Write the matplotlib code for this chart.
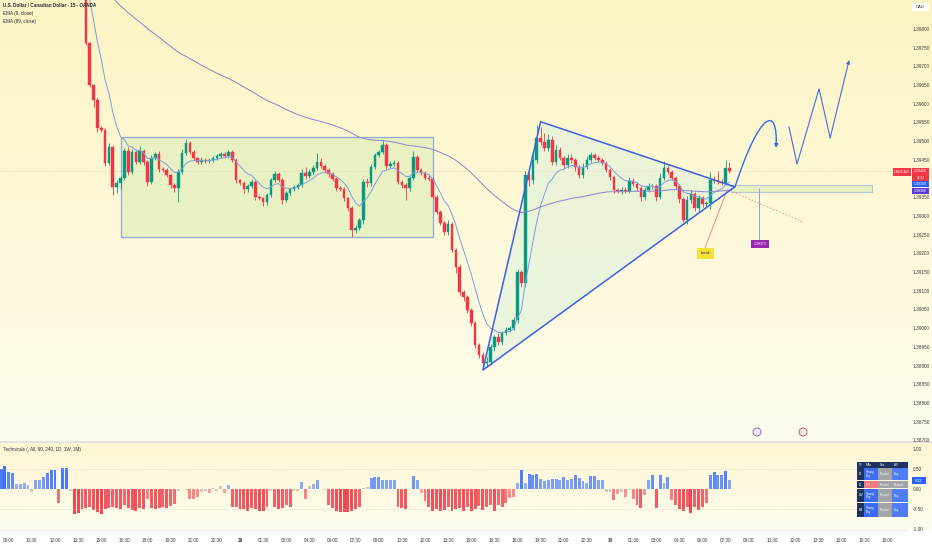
import numpy as np
import pandas as pd
import matplotlib
matplotlib.use("Agg")
import matplotlib.pyplot as plt
from matplotlib.patches import Rectangle, Polygon, FancyArrowPatch, Ellipse
from matplotlib.path import Path
from matplotlib.lines import Line2D
from matplotlib.ticker import FormatStrFormatter
from matplotlib.colors import to_rgb

plt.rcParams['font.family'] = ['Liberation Sans', 'DejaVu Sans']

# 15m candles, hours counted from the 29th 00:00; first visible candle = 28th 14:00
first_hour = -10.0
first_open = 1.39891
closes = [
    1.39763, 1.39650, 1.39610, 1.39535, 1.39530, 1.39442, 1.39484, 1.39377, 1.39388, 1.39402,
    1.39474, 1.39418, 1.39471, 1.39444, 1.39474, 1.39444, 1.39391, 1.39455, 1.39466, 1.39426,
    1.39423, 1.39409, 1.39383, 1.39375, 1.39418, 1.39468, 1.39495, 1.39471, 1.39455, 1.39444,
    1.39450, 1.39447, 1.39450, 1.39455, 1.39460, 1.39466, 1.39460, 1.39471, 1.39450, 1.39396,
    1.39388, 1.39372, 1.39380, 1.39391, 1.39351, 1.39348, 1.39337, 1.39356, 1.39396, 1.39412,
    1.39396, 1.39343, 1.39361, 1.39372, 1.39377, 1.39383, 1.39415, 1.39407, 1.39418, 1.39428,
    1.39444, 1.39434, 1.39423, 1.39412, 1.39399, 1.39375, 1.39372, 1.39348, 1.39321, 1.39262,
    1.39268, 1.39289, 1.39391, 1.39388, 1.39431, 1.39463, 1.39471, 1.39490, 1.39434, 1.39439,
    1.39442, 1.39391, 1.39383, 1.39375, 1.39402, 1.39458, 1.39423, 1.39415, 1.39402, 1.39399,
    1.39351, 1.39311, 1.39281, 1.39257, 1.39279, 1.39209, 1.39163, 1.39097, 1.39083, 1.39049,
    1.39014, 1.38955, 1.38928, 1.38907, 1.38910, 1.38950, 1.38976, 1.38963, 1.38987, 1.38995,
    1.39000, 1.39022, 1.39150, 1.39121, 1.39409, 1.39396, 1.39450, 1.39509, 1.39498, 1.39482,
    1.39503, 1.39444, 1.39476, 1.39455, 1.39436, 1.39455, 1.39450, 1.39431, 1.39409, 1.39431,
    1.39450, 1.39463, 1.39455, 1.39450, 1.39442, 1.39423, 1.39404, 1.39369, 1.39367, 1.39369,
    1.39367, 1.39394, 1.39385, 1.39375, 1.39351, 1.39369, 1.39380, 1.39380, 1.39351, 1.39402,
    1.39428, 1.39418, 1.39402, 1.39380, 1.39345, 1.39289, 1.39343, 1.39359, 1.39321, 1.39348,
    1.39332, 1.39335, 1.39396, 1.39394, 1.39391, 1.39388, 1.39428, 1.39420,
]
# wick lengths in pips beyond the body
upper_wick = [
    1.0, 0.3, 0.4, 0.5, 0.6, 0.5, 1.0, 0.6, 0.8, 0.6,
    0.8, 1.0, 0.8, 0.6, 1.2, 0.6, 0.5, 0.8, 0.6, 0.8,
    0.5, 0.5, 0.4, 0.4, 0.8, 1.0, 1.2, 0.6, 0.5, 0.4,
    0.8, 0.6, 0.5, 0.5, 0.6, 0.5, 0.6, 0.6, 0.5, 0.4,
    0.4, 0.5, 0.6, 0.8, 0.5, 0.4, 0.4, 0.6, 0.6, 0.8,
    0.5, 0.5, 0.6, 0.4, 0.5, 0.6, 1.2, 1.5, 0.8, 0.8,
    2.5, 1.0, 0.6, 0.6, 0.5, 0.5, 0.4, 0.5, 0.4, 0.6,
    0.8, 0.6, 0.8, 1.0, 0.8, 0.6, 0.6, 1.2, 0.6, 0.8,
    0.8, 0.6, 0.5, 0.5, 0.6, 1.5, 0.6, 0.6, 0.6, 0.8,
    0.5, 0.6, 0.5, 0.6, 1.0, 0.5, 0.6, 0.8, 0.5, 0.6,
    0.6, 0.5, 0.5, 0.8, 1.2, 0.8, 0.6, 1.0, 0.6, 0.8,
    0.6, 0.8, 0.8, 0.6, 1.0, 0.8, 1.5, 3.5, 3.0, 2.5,
    1.5, 1.0, 1.5, 0.8, 0.6, 1.0, 1.2, 0.6, 0.5, 1.0,
    1.0, 0.8, 0.6, 0.8, 0.6, 0.5, 0.5, 0.4, 0.6, 0.8,
    0.8, 1.0, 0.8, 0.6, 0.5, 0.8, 0.8, 0.6, 0.6, 1.2,
    2.0, 0.8, 0.6, 0.5, 0.5, 0.6, 1.0, 1.0, 0.6, 0.8,
    0.6, 0.6, 2.1, 1.0, 2.5, 0.8, 2.1, 1.6,
]
lower_wick = [
    0.6, 0.5, 1.9, 1.0, 0.5, 0.8, 0.6, 2.0, 1.5, 1.5,
    0.6, 0.8, 0.6, 0.6, 0.6, 0.8, 1.0, 0.6, 0.5, 0.8,
    0.5, 0.6, 0.8, 1.0, 3.7, 0.6, 0.5, 0.6, 0.5, 0.5,
    0.5, 0.6, 0.5, 0.6, 0.5, 0.5, 0.6, 0.5, 0.6, 0.8,
    0.6, 1.0, 0.8, 0.6, 0.8, 0.6, 1.0, 0.8, 0.6, 0.5,
    0.6, 1.0, 0.6, 0.6, 0.6, 0.6, 0.6, 0.8, 0.6, 0.6,
    0.6, 0.6, 0.6, 0.8, 0.6, 0.8, 0.6, 0.8, 0.8, 1.9,
    0.8, 0.6, 1.0, 1.0, 0.8, 0.6, 0.6, 0.6, 0.8, 0.6,
    0.6, 0.6, 0.8, 3.2, 0.8, 0.6, 0.6, 0.6, 0.6, 0.6,
    0.6, 0.6, 0.6, 0.8, 0.8, 0.6, 1.6, 0.8, 1.0, 0.8,
    0.8, 0.8, 0.8, 2.0, 1.2, 0.8, 1.0, 0.8, 0.8, 0.6,
    0.6, 0.6, 0.8, 1.0, 1.0, 1.5, 1.0, 0.8, 0.8, 0.8,
    0.8, 0.8, 0.8, 0.6, 1.0, 0.8, 0.8, 1.0, 0.8, 0.8,
    0.6, 0.6, 0.6, 0.6, 0.6, 0.6, 0.8, 0.8, 0.6, 0.8,
    0.6, 0.6, 0.6, 0.8, 1.0, 0.8, 0.6, 0.8, 1.0, 0.6,
    0.6, 0.6, 0.6, 0.8, 1.0, 0.6, 1.0, 0.8, 0.8, 0.8,
    0.8, 0.8, 1.5, 0.6, 0.6, 0.6, 0.6, 0.6,
]
# EMA state just before the first visible candle (price was above the pane)
ema_fast_seed = 1.39978
ema_slow_seed = 1.39950

# Technicals rating, one bar per 15m from 28th 08:30
tech_first_hour = -15.5
tech_rating = [
    0.50, 0.57, 0.42, 0.40, 0.12, 0.13, 0.15, 0.10, -0.08, 0.22,
    0.22, 0.30, 0.40, 0.47, 0.48, -0.35, 0.52, 0.52, -0.05, -0.62,
    -0.60, -0.50, -0.48, -0.45, -0.52, -0.58, -0.62, -0.50, -0.48, -0.45,
    -0.48, -0.50, -0.40, -0.48, -0.52, -0.55, -0.47, -0.50, -0.25, -0.48,
    -0.50, -0.48, -0.45, -0.48, -0.42, -0.38, -0.05, 0.00, -0.02, -0.25,
    -0.25, -0.20, -0.08, -0.05, -0.10, 0.03, -0.05, 0.08, -0.10, 0.10,
    -0.45, -0.45, -0.50, -0.50, -0.55, -0.48, -0.50, -0.55, -0.55, -0.45,
    -0.05, -0.45, -0.50, -0.48, -0.40, -0.45, -0.05, -0.05, 0.18, -0.25,
    0.08, 0.12, 0.22, 0.00, -0.02, -0.40, -0.48, -0.55, -0.57, -0.58,
    -0.57, -0.55, -0.50, -0.45, 0.03, 0.05, 0.28, 0.30, 0.30, 0.22,
    0.22, 0.22, 0.22, -0.45, -0.48, -0.50, 0.00, 0.33, 0.22, -0.10,
    -0.30, -0.45, -0.55, -0.50, -0.55, -0.52, -0.45, -0.55, -0.50, -0.48,
    -0.55, -0.45, -0.55, -0.50, -0.42, -0.52, -0.45, -0.40, -0.55, -0.40,
    -0.45, -0.35, -0.22, -0.20, 0.15, 0.48, 0.15, 0.38, 0.35, 0.38,
    0.25, 0.20, 0.22, 0.25, 0.25, 0.22, 0.30, 0.22, 0.25, 0.35,
    0.28, 0.20, 0.15, 0.32, 0.32, 0.22, 0.22, -0.08, -0.08, -0.28,
    -0.12, -0.08, -0.20, -0.02, -0.25, -0.40, -0.48, -0.15, 0.22, 0.35,
    -0.48, 0.35, 0.15, 0.30, -0.28, -0.40, -0.50, -0.55, -0.45, -0.60,
    -0.45, -0.52, -0.45, -0.35, 0.35, 0.42, 0.35, 0.35, 0.45, 0.22,
]

# 1.39400 sits under the last-price label, so it is left out
price_ticks = [1.387, 1.3875, 1.388, 1.3885, 1.389, 1.3895, 1.390, 1.3905, 1.391, 1.3915,
               1.392, 1.3925, 1.393, 1.3935, 1.3945, 1.395, 1.3955, 1.396, 1.3965,
               1.397, 1.3975, 1.398]
tech_ticks = [1.0, 0.5, 0.0, -0.5, -1.0]
tech_tick_labels = ['1.00', '0.50', '0.00', '-0.50', '-1.00']
time_ticks = [-15, -13.5, -12, -10.5, -9, -7.5, -6, -4.5, -3, -1.5, 0, 1.5, 3, 4.5, 6, 7.5,
              9, 10.5, 12, 13.5, 15, 16.5, 18, 19.5, 21, 22.5, 24, 25.5, 27, 28.5, 30, 31.5,
              33, 34.5, 36, 37.5, 39, 40.5, 42]
time_labels = ['09:00', '10:30', '12:00', '13:30', '15:00', '16:30', '18:00', '19:30', '21:00',
               '22:30', '29', '01:30', '03:00', '04:30', '06:00', '07:30', '09:00', '10:30',
               '12:00', '13:30', '15:00', '16:30', '18:00', '19:30', '21:00', '22:30', '30',
               '01:30', '03:00', '04:30', '06:00', '07:30', '09:00', '10:30', '12:00', '13:30',
               '15:00', '16:30', '18:00']

# drawings (hour, price)
range_box = (-7.75, 12.5, 1.39245, 1.39510)
triangle = [(15.75, 1.38888), (19.5, 1.39552), (32.1, 1.39378)]
retest_zone = (31.85, 41.0, 1.39364, 1.39383)
red_dash = [(31.98, 1.39364), (36.52, 1.39284)]
curve_pts = [(32.11, 1.39378), (33.73, 1.39583), (34.90, 1.39597), (34.77, 1.39482)]
zigzag = [(35.61, 1.39538), (36.13, 1.39439), (37.56, 1.39640), (38.28, 1.39509), (39.51, 1.39717)]
target_line = (33.66, 1.39375, 1.39236)
break_line = [(30.16, 1.39214), (31.59, 1.39369)]

table_header = ['TF', 'MAs', 'Osc', 'All']
table_rows = [['15', 'Strong\nBuy', 'Neutral', 'Buy'],
              ['60', 'Sell', 'Neutral', 'Neutral'],
              ['1W', 'Strong\nBuy', 'Neutral', 'Buy'],
              ['1M', 'Strong\nBuy', 'Neutral', 'Buy']]

W, H = 932, 550
PANE_R = 908
PX_H = 15.417               # px per hour
X0 = -240 / PX_H            # hour at pixel x = 0
P_PER_PX = 0.0005 / 18.7


def fx(x):
    return x / W


def fy(y):
    return 1 - y / H


fig = plt.figure(figsize=(W / 100, H / 100), dpi=100)

# background gradient
bg = fig.add_axes([0, 0, 1, 1], zorder=-10)
rows = np.arange(H)
img = np.zeros((H, 1, 3))
top_c, bot_c = np.array([252, 244, 196]), np.array([255, 253, 238])
tech_top = np.array([253, 247, 212])
for k in range(3):
    col = np.interp(rows, [0, 441], [top_c[k], bot_c[k]])
    col = np.where(rows >= 441, np.interp(rows, [443, 530], [tech_top[k], bot_c[k]]), col)
    col = np.where((rows >= 441) & (rows < 443), 226, col)
    col = np.where(rows >= 530, 254, col)
    img[:, 0, k] = col / 255
bg.imshow(img, aspect='auto', extent=[0, 1, 0, 1])
bg.axis('off')

# ---- main pane
ax = fig.add_axes([0, fy(441), fx(PANE_R), 441 / H])
ax.set_facecolor('none')
ax.set_xlim(X0, X0 + PANE_R / PX_H)
ax.set_ylim(1.398 - 412 * P_PER_PX, 1.398 + 29 * P_PER_PX)
for s in ax.spines.values():
    s.set_visible(False)

hours = first_hour + 0.25 * np.arange(len(closes))
c = np.array(closes)
o = np.array([first_open] + closes[:-1])
hi = np.maximum(o, c) + np.array(upper_wick) / 10000
lo = np.minimum(o, c) - np.array(lower_wick) / 10000
cols = np.where(c >= o, '#089981', '#f23645')

ax.vlines(hours, lo, hi, colors=cols, lw=0.6, zorder=4)
ax.bar(hours, c - o, bottom=o, width=0.17, color=cols, edgecolor=cols, linewidth=0.3, zorder=5)

ema_fast = pd.Series([ema_fast_seed] + closes).ewm(span=9, adjust=False).mean().values[1:]
ema_slow = pd.Series([ema_slow_seed] + closes).ewm(span=89, adjust=False).mean().values[1:]
ax.plot(hours, ema_fast, color='#7f9ddc', lw=0.7, zorder=6)
ax.plot(hours, ema_slow, color='#8b84c6', lw=0.7, zorder=6)

ax.axhline(closes[-1], color='#dcb8a8', lw=0.5, ls=(0, (1, 1.5)), zorder=1)

t0, t1, pb, pt = range_box
ax.add_patch(Rectangle((t0, pb), t1 - t0, pt - pb, facecolor='#d9ecb6', alpha=0.55,
                       edgecolor='none', zorder=2))
ax.add_patch(Rectangle((t0, pb), t1 - t0, pt - pb, facecolor='none', edgecolor='#8eaad8',
                       lw=0.9, zorder=3))

ax.add_patch(Polygon(triangle, closed=True, facecolor='#dff2dc', alpha=0.6, edgecolor='none', zorder=2))
ax.add_patch(Polygon(triangle, closed=True, facecolor='none', edgecolor='#3d5fe0', lw=1.1, zorder=7))

r0, r1, rb, rt = retest_zone
ax.add_patch(Rectangle((r0, rb), r1 - r0, rt - rb, facecolor='#d9ecb6', alpha=0.6,
                       edgecolor='#8eaad8', lw=0.8, zorder=3))

ax.plot(*zip(*red_dash), color='#f08a8a', lw=0.6, ls=(0, (2, 2)), zorder=6)
ax.plot(*zip(*break_line), color='#f07a7a', lw=0.6, zorder=6)
ax.vlines(target_line[0], target_line[2], target_line[1], color='#8ea4d4', lw=0.7, zorder=6)

curve = Path(curve_pts, [Path.MOVETO, Path.CURVE4, Path.CURVE4, Path.CURVE4])
ax.add_patch(FancyArrowPatch(path=curve, arrowstyle='-|>', mutation_scale=5,
                             color='#2f6de0', lw=1.0, zorder=8))
ax.plot(*zip(*zigzag[:-1]), color='#4a6cdc', lw=0.8, zorder=8)
ax.annotate('', xy=zigzag[-1], xytext=zigzag[-2],
            arrowprops=dict(arrowstyle='-|>', color='#4a6cdc', lw=0.8, mutation_scale=5,
                            shrinkA=0, shrinkB=0), zorder=8)

ax.set_xticks([])
ax.yaxis.tick_right()
ax.set_yticks(price_ticks)
ax.yaxis.set_major_formatter(FormatStrFormatter('%.5f'))
ax.tick_params(axis='y', length=0, pad=3.6, labelsize=3.4, labelcolor='#3c3c3c')

# ---- technicals pane
ax2 = fig.add_axes([0, fy(530), fx(PANE_R), 87 / H])
ax2.set_facecolor('none')
ax2.set_xlim(ax.get_xlim())
ax2.set_ylim(-1.025, 1.15)
for s in ax2.spines.values():
    s.set_visible(False)
tr = np.array(tech_rating)
th = tech_first_hour + 0.25 * np.arange(len(tr))


def rating_color(v):
    if abs(v) < 0.1:
        return (0.82, 0.78, 0.75)
    base = np.array(to_rgb('#2962ff' if v > 0 else '#f23645'))
    a = 0.38 + 0.55 * min(abs(v) / 0.6, 1.0)
    paper = np.array([1.0, 0.99, 0.92])
    return tuple(paper * (1 - a) + base * a)


ax2.bar(th, tr, width=0.19, color=[rating_color(v) for v in tr], linewidth=0)
for lv in (0.5, -0.5):
    ax2.axhline(lv, color='#c8c4b8', lw=0.5, ls=(0, (1, 2)))
ax2.yaxis.tick_right()
ax2.set_yticks(tech_ticks, tech_tick_labels)
ax2.tick_params(axis='y', length=0, pad=3.6, labelsize=3.4, labelcolor='#3c3c3c')
ax2.set_xticks(time_ticks, time_labels)
ax2.tick_params(axis='x', length=0, pad=6, labelsize=3.3, labelcolor='#3c3c3c')
for lab in ax2.get_xticklabels():
    if lab.get_text() in ('29', '30'):
        lab.set_fontweight('bold')

# ---- texts and labels
txt = dict(fontsize=3.3, color='#2a2e39', va='center', ha='left')
fig.text(fx(3), fy(5.5), 'U.S. Dollar / Canadian Dollar · 15 · OANDA', fontweight='bold', **txt)
fig.text(fx(3), fy(14), 'EMA (9, close)', **txt)
fig.text(fx(3), fy(21), 'EMA (89, close)', **txt)
fig.text(fx(3), fy(449), 'Technicals (, All, 60, 240, 1D, 1W, 1M)', **txt)


def box(x0, y0, x1, y1, color, z=20):
    fig.add_artist(Rectangle((fx(x0), fy(y1)), (x1 - x0) / W, (y1 - y0) / H,
                             transform=fig.transFigure, facecolor=color, edgecolor='none', zorder=z))


def btext(x, y, s, color='white', size=3.0, ha='center', weight='normal'):
    fig.text(fx(x), fy(y), s, fontsize=size, color=color, ha=ha, va='center',
             zorder=21, fontweight=weight, linespacing=0.95)


box(912, 3, 929, 11, 'white')
btext(920.5, 7, 'CAD', color='#2a2e39')
box(893, 168, 911, 175.5, '#f23645')
btext(902, 171.8, 'USDCAD', size=2.7)
box(912, 168, 929, 181, '#f23645')
btext(920.5, 171.2, f'{closes[-1]:.5f}', size=2.6)
btext(920.5, 177.8, '02:34', size=2.3)
box(912, 181, 929, 187.5, '#2962ff')
btext(920.5, 184.3, '1.39389', size=2.6)
box(912, 187.5, 929, 194, '#5b3bd6')
btext(920.5, 190.8, '1.39366', size=2.6)
box(912, 477, 926, 484, '#2962ff')
btext(919, 480.5, f'{tech_rating[-1]:.2f}', size=2.8)

box(697, 248, 714, 259, '#f7e23c', z=9)
btext(705.5, 253.5, 'break', color='#2a2e39', size=2.8)
box(751, 240, 769, 248, '#9c27b0', z=9)
btext(760, 244, '1.39371', size=2.6)

fig.add_artist(Ellipse((fx(757), fy(432)), 8 / W, 8 / H, transform=fig.transFigure,
                       facecolor='#ede7f6', edgecolor='#8e5cc8', lw=0.6, zorder=9))
fig.add_artist(Ellipse((fx(803), fy(432)), 8 / W, 8 / H, transform=fig.transFigure,
                       facecolor='#fbe3e3', edgecolor='#c94a5a', lw=0.6, zorder=9))
fig.add_artist(Line2D([fx(0), fx(PANE_R)], [fy(530)] * 2, transform=fig.transFigure,
                      color='#e6e2d2', lw=0.5))

# signals table
col_x = [857, 864, 878, 892, 908]
row_y = [462, 468, 480.5, 488.5, 502.5, 517]
cell_col = {'Strong\nBuy': '#3d6cf2', 'Buy': '#4f7bf3', 'Neutral': '#a2a4a8',
            'Sell': '#f47a7f'}
for r, row in enumerate([table_header] + table_rows):
    for k, s in enumerate(row):
        if r == 0 or k == 0:
            color = '#1d3461'
        else:
            color = cell_col[s]
        box(col_x[k] + 0.4, row_y[r] + 0.4, col_x[k + 1] - 0.4, row_y[r + 1] - 0.4, color)
        btext(col_x[k] + 1.5, (row_y[r] + row_y[r + 1]) / 2, s, size=2.2, ha='left')

fig.savefig('out.png', dpi=100)
